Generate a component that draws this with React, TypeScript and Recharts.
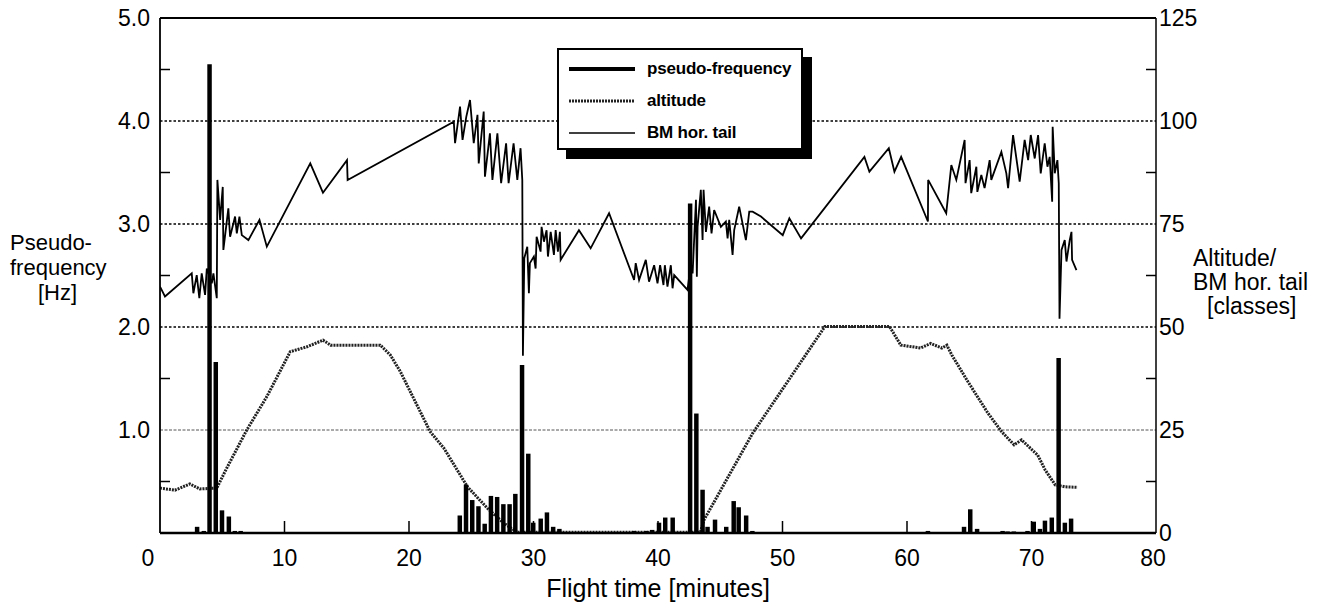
import { BarChart, Bar, ComposedChart, Line, XAxis, YAxis, ReferenceLine } from "recharts"

const FONT = "'Liberation Sans', Arial, Helvetica, sans-serif"
const W = 1334
const H = 604

// axis ticks
const xTicks = [0, 10, 20, 30, 40, 50, 60, 70, 80]
const freqTicks = [0, 0.5, 1, 1.5, 2, 2.5, 3, 3.5, 4, 4.5, 5]
const classTicks = [0, 12.5, 25, 37.5, 50, 62.5, 75, 87.5, 100, 112.5, 125]
const gridLevels = [2, 3, 4]
const lightGridLevels = [1]

// pseudo-frequency [Hz] (bars, left axis)
const freqTime = [
  2.4, 3.0, 3.54, 4.0, 4.5, 5.0, 5.55, 6.03, 6.5, 15, 23.6, 24.1, 24.6, 25.1, 25.6, 26.1, 26.6, 27.1,
  27.6, 28.1, 28.56, 29.1, 29.6, 30.0, 30.6, 31.1, 31.6, 32.1, 38.1, 39.1, 39.55, 40.1, 40.6, 41.2,
  42.6, 43.1, 43.6, 44.0, 44.6, 45.5, 46.1, 46.5, 47.1, 47.6, 61.7, 64.6, 65.1, 65.65, 66.1, 66.6,
  67.7, 68.1, 68.6, 69.7, 70.2, 70.7, 71.1, 71.65, 72.2, 72.7, 73.2,
]
const freqHz = [
  0.01, 0.06, 0.02, 4.55, 1.66, 0.22, 0.16, 0.02, 0.02, 0.01, 0.01, 0.17, 0.47, 0.32, 0.26, 0.09, 0.36, 0.35,
  0.28, 0.28, 0.38, 1.63, 0.77, 0.1, 0.14, 0.2, 0.06, 0.04, 0.02, 0.02, 0.03, 0.1, 0.15, 0.15,
  3.2, 1.16, 0.42, 0.06, 0.13, 0.06, 0.31, 0.25, 0.17, 0.02, 0.02, 0.06, 0.23, 0.04, 0.01, 0.01,
  0.02, 0.015, 0.015, 0.02, 0.11, 0.04, 0.12, 0.15, 1.7, 0.1, 0.14,
]

// altitude [classes] (right axis)
const altTime = [
  0, 1.2, 2.4, 3.2, 4.56, 5.37, 6.97, 8.58, 10.46, 11.8, 13.1, 13.7, 17.7, 18.5, 19.3, 21.7, 22.8,
  24.7, 26.3, 27.6, 28.7, 43.4, 43.7, 47.6, 50.4, 53.4, 58.6, 59.5, 61.1, 61.9, 62.8, 63.2, 63.6,
  64.9, 66.5, 67.6, 68.6, 69.2, 70.5, 71.1, 71.9, 72.7, 73.7,
]
const altClass = [
  10.9, 10.4, 11.9, 10.7, 10.9, 15.8, 25, 33.1, 44, 45.2, 46.8, 45.6, 45.6, 43.2, 39.2, 24.6, 20.6,
  11.2, 6, 2.4, 0.2, 0.2, 3.2, 24.2, 36.7, 50.1, 50.1, 45.6, 44.9, 46, 44.9, 45.6, 43.2,
  36.7, 29.1, 24.6, 21.4, 22.6, 18.9, 15.3, 11.7, 11.2, 11.1,
]

// BM hor. tail [classes] (right axis)
const bmTime = [
  0, 0.4, 2.55, 2.68, 2.95, 3.16, 3.35, 3.62, 3.76, 4.16, 4.29, 4.56, 4.61, 4.83, 5.04, 5.09, 5.49,
  5.63, 6.03, 6.17, 6.38, 6.57, 7.1, 7.99, 8.58, 12.07, 13.09, 15.02, 15.07, 23.6, 23.7, 24.1, 24.3,
  24.6, 24.9, 25.2, 25.5, 25.6, 26.0, 26.1, 26.5, 26.7, 27.1, 27.4, 27.8, 28.0, 28.4, 28.7, 28.96,
  29.1, 29.15, 29.26, 29.5, 29.63, 29.71, 30.03, 30.17, 30.25, 30.57, 30.65, 30.84, 31.05, 31.16,
  31.38, 31.64, 31.78, 31.96, 32.12, 32.18, 33.65, 34.59, 36.07, 38.08, 38.21, 38.48, 39.02, 39.28,
  39.69, 39.96, 40.17, 40.44, 40.55, 40.76, 41.03, 41.17, 41.3, 42.37, 42.64, 42.78, 43.05, 43.12,
  43.18, 43.44, 43.58, 43.66, 43.85, 44.11, 44.3, 44.51, 45.05, 45.45, 45.59, 45.72, 45.99, 46.12,
  46.52, 47.06, 47.33, 47.6, 48.27, 50.02, 50.55, 51.49, 56.58, 56.98, 58.54, 58.99, 59.53, 61.68,
  61.7, 63.15, 63.56, 63.96, 64.63, 64.7, 65.03, 65.16, 65.57, 65.65, 65.97, 66.23, 66.64, 66.77,
  67.58, 67.98, 68.12, 68.52, 69.05, 69.45, 69.73, 69.94, 70.26, 70.53, 70.74, 71.06, 71.28, 71.46,
  71.66, 71.7, 71.87, 72.08, 72.19, 72.25, 72.41, 72.67, 72.81, 73.07, 73.21, 73.26, 73.61,
]
const bmClass = [
  59.8, 57.4, 63, 58.2, 62.6, 57, 63, 57.8, 64.2, 60.6, 63, 57, 85.7, 76, 84, 68.7, 78.8,
  71.9, 76.8, 72.7, 76.8, 72.3, 71.1, 76, 69.5, 89.7, 82.6, 90.5, 85.7, 99.8, 94.6, 103.5, 95.4,
  101, 105.1, 94.6, 101.5, 89.7, 102.3, 86.5, 97, 85.7, 97, 84.9, 94.6, 84.9, 94.6, 85.7, 93.4,
  85.7, 43, 66.7, 69.5, 58.2, 65.5, 67.1, 64.2, 71.9, 68.3, 74.3, 70.7, 73.5, 67.1,
  73.1, 67.5, 73.5, 68.3, 73.1, 66.3, 73.5, 69.1, 77.6, 61.4, 65.5, 61.4, 66.3, 61,
  65, 60.6, 65, 60.2, 65, 59.8, 65, 59.4, 62.6, 59, 65.5, 63, 80.9, 62.2,
  74.3, 83.3, 71.1, 83.3, 73.1, 79.2, 72.7, 78.4, 74.3, 75.6, 71.5, 76, 67.5, 73.5,
  79.2, 71.1, 78, 78, 76.8, 72.3, 76.4, 71.5, 91.3, 87.7, 93.4, 87.7, 91.3, 75.6,
  85.7, 77.6, 89.3, 85.7, 95.4, 84.9, 90.5, 82.5, 88.9, 82.8, 86.9, 83.7, 90.5, 85.7,
  92.5, 87.3, 83.7, 96.6, 85.3, 95.4, 90.5, 96.6, 90.9, 96.6, 87.3, 94.6, 88.9, 91.3,
  80.4, 98.6, 87.3, 90.5, 84.9, 52, 68.7, 71.1, 65.9, 71.1, 73.1, 66.3, 63.8,
]

const legendItems = [
  { name: "pseudo-frequency", kind: "bar" },
  { name: "altitude", kind: "wave" },
  { name: "BM hor. tail", kind: "thin" },
]

type LineRow = { t: number; bm?: number; alt?: number }

function buildLineRows(): LineRow[] {
  const rows = new Map<number, LineRow>()
  bmTime.forEach((t, i) => {
    const r = rows.get(t) ?? { t }
    r.bm = bmClass[i]
    rows.set(t, r)
  })
  altTime.forEach((t, i) => {
    const r = rows.get(t) ?? { t }
    r.alt = altClass[i]
    rows.set(t, r)
  })
  return [...rows.values()].sort((a, b) => a.t - b.t)
}

const lineRows = buildLineRows()
const freqRows = freqTime.map((t, i) => ({ t, v: freqHz[i] }))

const tickText = { fontFamily: FONT, fontSize: 23, fill: "#000" }

function FreqTick({ x, y, payload }: any) {
  const v = payload.value as number
  if (v === 0) return <g />
  if (v % 1 !== 0) {
    return <line x1={x + 10} x2={x + 20} y1={y} y2={y} stroke="#000" strokeWidth={1.5} />
  }
  return (
    <text x={x} y={y} dy="0.36em" textAnchor="end" {...tickText}>
      {v.toFixed(1)}
    </text>
  )
}

function ClassTick({ x, y, payload }: any) {
  const v = payload.value as number
  if (v % 25 !== 0) {
    return <line x1={x - 3} x2={x - 13} y1={y} y2={y} stroke="#000" strokeWidth={1.5} />
  }
  return (
    <text x={x} y={y} dy="0.36em" textAnchor="start" {...tickText}>
      {v}
    </text>
  )
}

function TimeTick({ x, y, payload }: any) {
  const v = payload.value as number
  const inner = v > 0 && v < 80
  return (
    <g>
      {inner && <line x1={x} x2={x} y1={y - 17} y2={y - 29} stroke="#000" strokeWidth={1.5} />}
      <text x={x} y={y} dy="0.71em" dx={v === 0 ? -12 : v === 80 ? -3 : 0} textAnchor="middle" {...tickText}>
        {v}
      </text>
    </g>
  )
}

function LegendBox() {
  return (
    <div
      style={{
        position: "absolute",
        left: 557,
        top: 48,
        width: 242,
        height: 98,
        border: "2px solid #000",
        background: "#fff",
        boxShadow: "9px 9px 0 #000",
        fontFamily: FONT,
        fontWeight: "bold",
        fontSize: 17,
        letterSpacing: -0.2,
        whiteSpace: "nowrap",
      }}
    >
      {legendItems.map((it, i) => (
        <div
          key={it.name}
          style={{ position: "absolute", left: 10, top: 8 + i * 32, height: 22, display: "flex", alignItems: "center" }}
        >
          <svg width={68} height={12}>
            {it.kind === "bar" && <line x1={0} x2={66} y1={6} y2={6} stroke="#000" strokeWidth={4} />}
            {it.kind === "thin" && <line x1={0} x2={66} y1={6} y2={6} stroke="#000" strokeWidth={1.3} />}
            {it.kind === "wave" && (
              <line x1={0} x2={66} y1={6} y2={6} stroke="#222" strokeWidth={3} strokeDasharray="2 1" />
            )}
          </svg>
          <span style={{ marginLeft: 10 }}>{it.name}</span>
        </div>
      ))}
    </div>
  )
}

const sideLabel = { position: "absolute" as const, fontFamily: FONT, fontSize: 22, lineHeight: "25px", color: "#000" }

export default function App() {
  return (
    <div style={{ position: "absolute", left: 0, top: 0, width: W, height: H, background: "#fff" }}>
      <ComposedChart
        width={W}
        height={H}
        data={lineRows}
        margin={{ top: 18, right: 118, bottom: 7, left: 100 }}
        style={{ position: "absolute", left: 0, top: 0 }}
      >
        <XAxis
          dataKey="t"
          type="number"
          domain={[0, 80]}
          allowDataOverflow
          ticks={xTicks}
          interval={0}
          height={64}
          tickSize={0}
          tickMargin={17}
          tick={TimeTick}
          axisLine={{ stroke: "#000", strokeWidth: 2.5 }}
          label={{
            value: "Flight time [minutes]",
            position: "insideBottom",
            offset: 0,
            style: { fontFamily: FONT, fontSize: 25, fill: "#000" },
          }}
        />
        <YAxis
          yAxisId="freq"
          type="number"
          domain={[0, 5]}
          allowDataOverflow
          ticks={freqTicks}
          interval={0}
          width={60}
          tickSize={0}
          tickMargin={10}
          tick={FreqTick}
          axisLine={{ stroke: "#000", strokeWidth: 1.8 }}
        />
        <YAxis
          yAxisId="classes"
          orientation="right"
          type="number"
          domain={[0, 125]}
          allowDataOverflow
          ticks={classTicks}
          interval={0}
          width={60}
          tickSize={0}
          tickMargin={3}
          tick={ClassTick}
          axisLine={{ stroke: "#000", strokeWidth: 1.5 }}
        />
        <ReferenceLine yAxisId="freq" y={5} stroke="#000" strokeWidth={1.8} />
        {gridLevels.map((g) => (
          <ReferenceLine key={g} yAxisId="freq" y={g} stroke="#000" strokeWidth={1.5} strokeDasharray="2.5 2" />
        ))}
        {lightGridLevels.map((g) => (
          <ReferenceLine key={g} yAxisId="freq" y={g} stroke="#555" strokeWidth={1} strokeDasharray="3 1.5" />
        ))}
        <Line
          yAxisId="classes"
          type="linear"
          dataKey="alt"
          name="altitude"
          stroke="#222"
          strokeWidth={3}
          strokeDasharray="2 1"
          dot={false}
          connectNulls
          isAnimationActive={false}
        />
        <Line
          yAxisId="classes"
          type="linear"
          dataKey="bm"
          name="BM hor. tail"
          stroke="#000"
          strokeWidth={1.8}
          dot={false}
          connectNulls
          isAnimationActive={false}
        />
      </ComposedChart>

      <BarChart
        width={W}
        height={H}
        data={freqRows}
        margin={{ top: 18, right: 178, bottom: 71, left: 160 }}
        style={{ position: "absolute", left: 0, top: 0 }}
      >
        <XAxis dataKey="t" type="number" domain={[0, 80]} allowDataOverflow hide />
        <YAxis type="number" domain={[0, 5]} allowDataOverflow hide />
        <Bar dataKey="v" name="pseudo-frequency" fill="#000" barSize={5} isAnimationActive={false} />
      </BarChart>

      <div style={{ ...sideLabel, left: 10, top: 230 }}>
        <div>Pseudo-</div>
        <div>frequency</div>
        <div style={{ paddingLeft: 28 }}>[Hz]</div>
      </div>
      <div style={{ ...sideLabel, left: 1193, top: 246, fontSize: 23, lineHeight: "24px" }}>
        <div>Altitude/</div>
        <div>BM hor. tail</div>
        <div style={{ paddingLeft: 14 }}>[classes]</div>
      </div>

      <LegendBox />
    </div>
  )
}
